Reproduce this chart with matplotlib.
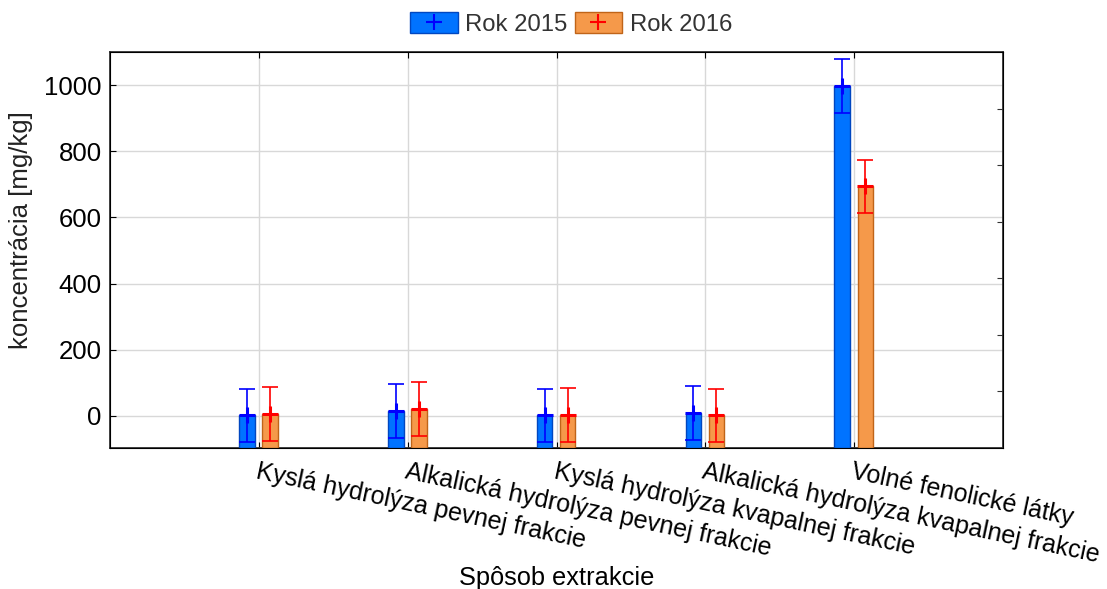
import matplotlib
matplotlib.use("Agg")
import matplotlib.pyplot as plt
import numpy as np
from matplotlib.patches import Patch
from matplotlib.lines import Line2D

categories = ["Kyslá hydrolýza pevnej frakcie",
              "Alkalická hydrolýza pevnej frakcie",
              "Kyslá hydrolýza kvapalnej frakcie",
              "Alkalická hydrolýza kvapalnej frakcie",
              "Volné fenolické látky"]
series_names = ["Rok 2015", "Rok 2016"]
values_2015 = [2, 14, 2, 9, 997]
values_2016 = [6, 20, 3, 2, 694]
err_2015 = [80, 81, 80, 82, 81]
err_2016 = [81, 81, 81, 80, 81]
yticks = [0, 200, 400, 600, 800, 1000]

plt.rcParams['font.family'] = ['Liberation Sans', 'DejaVu Sans']

fig = plt.figure(figsize=(11.07, 5.89), dpi=100)
ax = fig.add_axes([110/1107, 1-448/589, 893/1107, 396/589])

Y_MIN, Y_MAX = -97, 1100
x = np.arange(len(categories))
w = 0.105
offs = [-0.08, 0.075]
fills = ["#0073FF", "#F5994A"]
edges = ["#0047C0", "#C06418"]
ecols = ["#0000FF", "#FF0000"]

for vals, errs, off, fc, ec, erc in zip([values_2015, values_2016], [err_2015, err_2016], offs, fills, edges, ecols):
    xs = x + off
    vals = np.asarray(vals, dtype=float)
    ax.bar(xs, vals - Y_MIN, bottom=Y_MIN, width=w, color=fc, edgecolor=ec,
           linewidth=1.0, zorder=3)
    ax.errorbar(xs, vals, yerr=errs, fmt='none', ecolor=erc, elinewidth=1.2,
                capsize=5.8, capthick=1.2, zorder=4)
    ax.plot(xs, vals, linestyle='none', marker='+', markersize=12, markeredgewidth=2.2,
            color=erc, zorder=5)

ax.set_xlim(-1, 5)
ax.set_ylim(Y_MIN, Y_MAX)
ax.set_yticks(yticks)
ax.set_yticklabels([str(t) for t in yticks], fontsize=18.5)
ax.set_xticks(x)
ax.set_xticklabels(categories, rotation=-12, ha='left', va='top',
                   rotation_mode='anchor', fontsize=18)
ax.tick_params(axis='x', direction='in', length=4, pad=8, top=True)
ax.tick_params(axis='y', direction='in', length=4, pad=6)
ax.grid(True, color="#D8D8D8", linewidth=1.0, zorder=0)
ax.set_axisbelow(True)
for s in ax.spines.values():
    s.set_color("#333333")
    s.set_linewidth(1.3)

# right-side minor ticks
ax2 = ax.twinx()
ax2.set_ylim(0, 7)
ax2.set_yticks(np.arange(1, 7))
ax2.set_yticklabels([])
ax2.tick_params(axis='y', direction='in', length=4, color="#333333")

fig.text(21/1107, 1-230/589, "koncentrácia [mg/kg]", rotation=90, ha='center', va='center',
         fontsize=18.5, color="#222222")
fig.text(557/1107, 1-578/589, "Spôsob extrakcie", ha='center', va='center', fontsize=18.3)

handles = []
for fc, ec, erc in zip(fills, edges, ecols):
    handles.append((Patch(facecolor=fc, edgecolor=ec),
                    Line2D([], [], linestyle='none', marker='+', markersize=11,
                           markeredgewidth=1.5, color=erc)))
fig.legend(handles, series_names, loc='center', bbox_to_anchor=(571/1107, 1-24/589),
           ncol=2, frameon=False, fontsize=17.2, handlelength=2.0, handleheight=1.0,
           columnspacing=0.3, handletextpad=0.3, labelcolor="#333333")

fig.savefig("out.png", dpi=100)
